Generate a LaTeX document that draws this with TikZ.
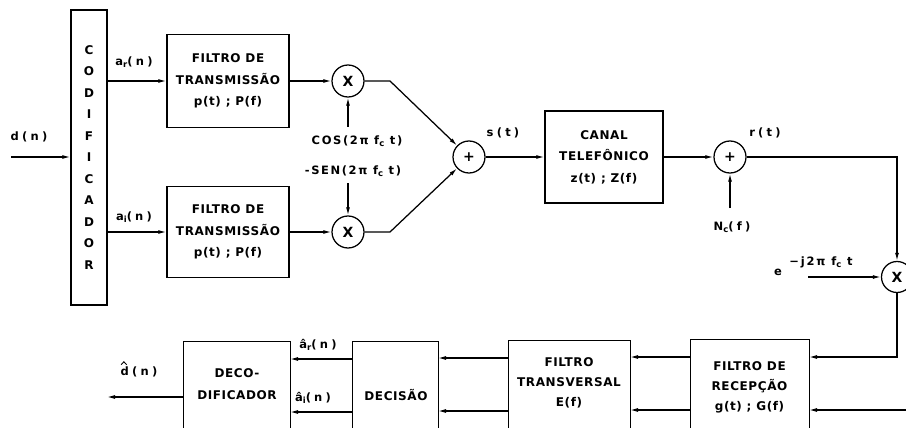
\documentclass[tikz,border=0pt]{standalone}
\usepackage{fontspec}
\setmainfont{DejaVu Sans}[LetterSpace=5]
\usetikzlibrary{arrows.meta,calc}
\newcommand{\lsub}[1]{\raisebox{-0.4ex}{\fontsize{8.5}{8.5}\selectfont #1}}
\begin{document}
\begin{tikzpicture}[x=1pt,y=-1pt, line width=1.25pt,
  box/.style={draw, rectangle, inner sep=0pt, align=center, font=\bfseries\fontsize{12}{21.5}\selectfont},
  lbl/.style={inner sep=0pt, align=center, font=\bfseries\fontsize{12}{21}\selectfont},
  sig/.style={inner sep=0pt, font=\bfseries\fontsize{11.5}{12}\selectfont\addfontfeature{LetterSpace=14}},
  sigw/.style={inner sep=0pt, font=\bfseries\fontsize{11.5}{12}\selectfont\addfontfeature{LetterSpace=28}},
  op/.style={draw, circle, minimum size=32pt, inner sep=0pt, font=\bfseries\fontsize{14}{14}\selectfont},
  arr/.style={-{Latex[length=8pt,width=4pt]}},
]
\clip (0,0) rectangle (906,428);
% top row
\node[box, minimum width=36pt, minimum height=295pt] (cod) at (89,157.5) {C\\O\\D\\I\\F\\I\\C\\A\\D\\O\\R};
\node[box, minimum width=122pt, minimum height=93pt] (ftop) at (228,81) {FILTRO DE\\TRANSMISSÃO\\p(t) ; P(f)};
\node[box, minimum width=122pt, minimum height=91pt] (fbot) at (228,232) {FILTRO DE\\TRANSMISSÃO\\p(t) ; P(f)};
\node[op] (mtop) at (348,81) {X};
\node[op] (mbot) at (348,232) {X};
\node[op] (add) at (469,157) {+};
\node[box, minimum width=118pt, minimum height=92pt] (canal) at (604,157) {CANAL\\TELEFÔNICO\\z(t) ; Z(f)};
\node[op] (add2) at (730,157) {+};
\node[op, minimum size=31pt] (mix) at (897,277) {X};
% bottom row boxes (cut by the lower edge)
\node[box, anchor=north west, minimum width=119pt, minimum height=120pt] (rcv) at (690,339) {};
\node[lbl, font=\bfseries\fontsize{12}{20}\selectfont] (rcvt) at (749.5,387) {FILTRO DE\\RECEPÇÃO\\g(t) ; G(f)};
\node[box, anchor=north west, minimum width=122pt, minimum height=120pt] (trans) at (508,340) {};
\node[lbl, font=\bfseries\fontsize{12}{20}\selectfont] (transt) at (569,383) {FILTRO\\TRANSVERSAL\\E(f)};
\node[box, anchor=north west, minimum width=86pt, minimum height=120pt] (dec) at (352,341) {};
\node[lbl] (dect) at (396,395) {DECISÃO};
\node[box, anchor=north west, minimum width=107pt, minimum height=120pt] (decod) at (183,341) {};
\node[lbl, font=\bfseries\fontsize{12}{22}\selectfont] (decodt) at (237,384) {DECO-\\DIFICADOR};
% coordinates
\coordinate (din) at (11,157);
\coordinate (cosl) at (348,127);
\coordinate (senl) at (348,183);
\coordinate (bt) at (390,81);
\coordinate (bb) at (390,232);
\coordinate (nc) at (730,208);
\coordinate (ex) at (808,277);
\coordinate (ra) at (809,357);
\coordinate (rin) at (915,410);
\coordinate (rb) at (809,410);
\coordinate (rwa) at (690,357);
\coordinate (rwb) at (690,410);
\coordinate (ta) at (630,357);
\coordinate (tb) at (630,410);
\coordinate (twa) at (508,358);
\coordinate (twb) at (508,411);
\coordinate (da) at (438,358);
\coordinate (db) at (438,411);
\coordinate (dwa) at (352,359);
\coordinate (dwb) at (352,412);
\coordinate (ca) at (290,359);
\coordinate (cb) at (290,412);
\coordinate (dw) at (183,397);
\coordinate (dout) at (107,397);
% connectors
\draw[arr] (din) -- (din -| cod.west);
\draw[arr] (cod.east |- ftop) -- (ftop.west);
\draw[arr] (cod.east |- fbot) -- (fbot.west);
\draw[arr] (ftop.east) -- (mtop.west);
\draw[arr] (fbot.east) -- (mbot.west);
\draw[arr] (cosl) -- (mtop.south);
\draw[arr] (senl) -- (mbot.north);
\draw[arr] (mtop.east) -- (bt) -- (add);
\draw[arr] (mbot.east) -- (bb) -- (add);
\draw[arr] (add.east) -- (canal.west);
\draw[arr] (canal.east) -- (add2.west);
\draw[arr] (nc) -- (add2.south);
\draw[arr] (add2.east) -| (mix.north);
\draw[arr] (ex) -- (mix.west);
\draw[arr] (mix.south) |- (ra);
\draw[arr] (rin) -- (rb);
\draw[arr] (rwa) -- (ta);
\draw[arr] (rwb) -- (tb);
\draw[arr] (twa) -- (da);
\draw[arr] (twb) -- (db);
\draw[arr] (dwa) -- (ca);
\draw[arr] (dwb) -- (cb);
\draw[arr] (dw) -- (dout);
% signal labels
\node[sigw] (ldn) at (29,137) {d(n)};
\node[sigw] (lar) at (134,62) {a\lsub{r}(n)};
\node[sigw] (lai) at (134,217) {a\lsub{i}(n)};
\node[sig] (lcos) at (357,141) {COS(2π f\lsub{c} t)};
\node[sig] (lsen) at (353,171) {-SEN(2π f\lsub{c} t)};
\node[sigw] (lst) at (503,133) {s(t)};
\node[sigw] (lrt) at (765,133) {r(t)};
\node[sigw] (lnc) at (732,227) {N\lsub{c}(f)};
\node[sig] (le) at (778,272) {e};
\node[sig, font=\bfseries\fontsize{11.5}{12}\selectfont\addfontfeature{LetterSpace=16}] (lexp) at (821,262) {−j2π f\lsub{c} t};
\node[sigw] (lhr) at (318,345) {â\lsub{r}(n)};
\node[sigw] (lhi) at (313,398) {â\lsub{i}(n)};
\node[sigw] (lhd) at (139,372) {d(n)};
% hat over the d of d(n)
\draw[line width=0.9pt, line join=miter] ($(lhd.north west)+(1,-1.5)$) -- ++(2.8,-3) -- ++(2.8,3);
\end{tikzpicture}
\end{document}
